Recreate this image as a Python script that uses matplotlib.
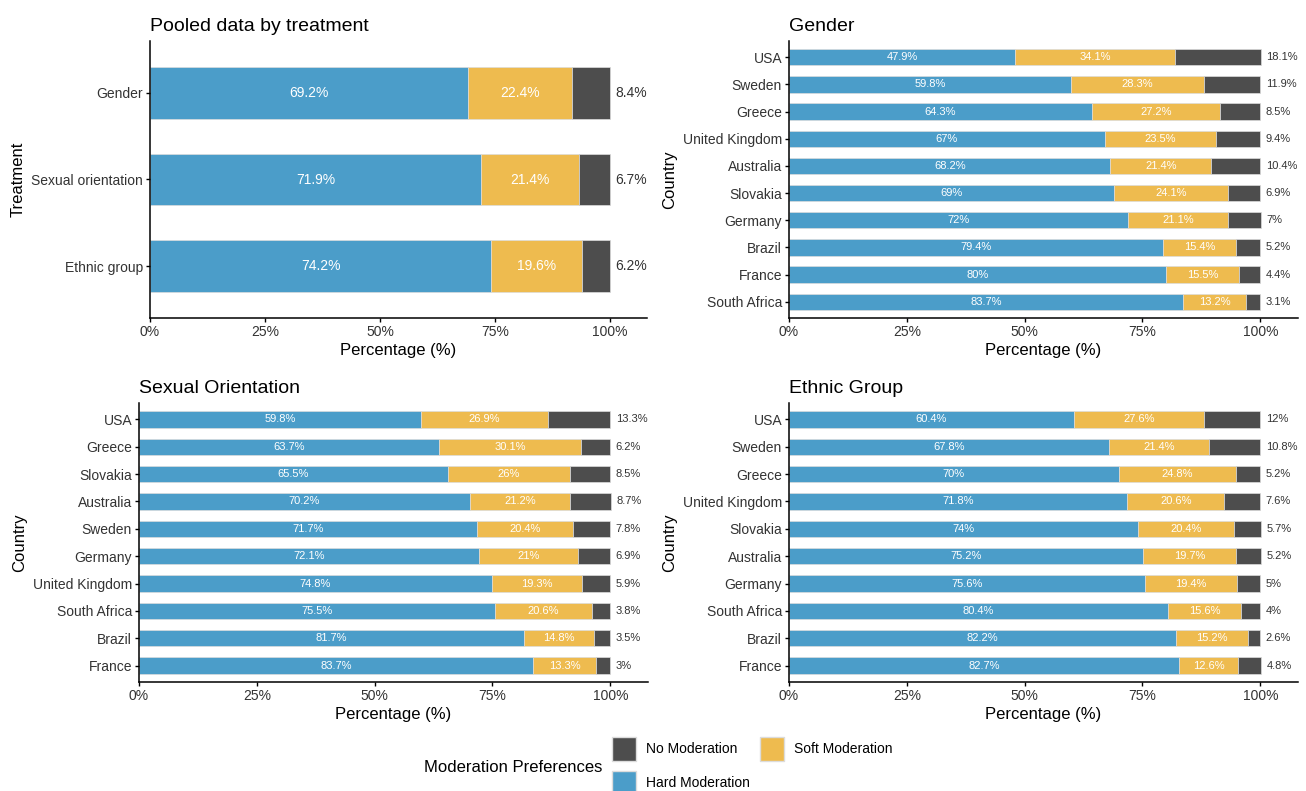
from matplotlib import pyplot as plt
from matplotlib.patches import Patch
from matplotlib.ticker import FuncFormatter

plt.rcParams['font.family'] = ['Liberation Sans', 'DejaVu Sans']

HARD_C = '#4b9dc9'
SOFT_C = '#eebb4f'
NONE_C = '#4d4d4d'
EDGE_C = '#dcdcdc'
TICK_C = '#333333'

# pooled data (top to bottom)
treatments = ['Gender', 'Sexual orientation', 'Ethnic group']
pooled_hard = [69.2, 71.9, 74.2]
pooled_soft = [22.4, 21.4, 19.6]
pooled_none = [8.4, 6.7, 6.2]

# gender treatment by country
gender_countries = ['USA', 'Sweden', 'Greece', 'United Kingdom', 'Australia',
                    'Slovakia', 'Germany', 'Brazil', 'France', 'South Africa']
gender_hard = [47.9, 59.8, 64.3, 67, 68.2, 69, 72, 79.4, 80, 83.7]
gender_soft = [34.1, 28.3, 27.2, 23.5, 21.4, 24.1, 21.1, 15.4, 15.5, 13.2]
gender_none = [18.1, 11.9, 8.5, 9.4, 10.4, 6.9, 7, 5.2, 4.4, 3.1]

# sexual orientation treatment by country
sexual_countries = ['USA', 'Greece', 'Slovakia', 'Australia', 'Sweden',
                    'Germany', 'United Kingdom', 'South Africa', 'Brazil', 'France']
sexual_hard = [59.8, 63.7, 65.5, 70.2, 71.7, 72.1, 74.8, 75.5, 81.7, 83.7]
sexual_soft = [26.9, 30.1, 26, 21.2, 20.4, 21, 19.3, 20.6, 14.8, 13.3]
sexual_none = [13.3, 6.2, 8.5, 8.7, 7.8, 6.9, 5.9, 3.8, 3.5, 3]

# ethnic group treatment by country
ethnic_countries = ['USA', 'Sweden', 'Greece', 'United Kingdom', 'Slovakia',
                    'Australia', 'Germany', 'South Africa', 'Brazil', 'France']
ethnic_hard = [60.4, 67.8, 70, 71.8, 74, 75.2, 75.6, 80.4, 82.2, 82.7]
ethnic_soft = [27.6, 21.4, 24.8, 20.6, 20.4, 19.7, 19.4, 15.6, 15.2, 12.6]
ethnic_none = [12, 10.8, 5.2, 7.6, 5.7, 5.2, 5, 4, 2.6, 4.8]

x_ticks = [0, 25, 50, 75, 100]

W, H = 1306, 791


def px_rect(left, top, right, bottom):
    return [left / W, 1 - bottom / H, (right - left) / W, (bottom - top) / H]


def pct(v):
    return f'{v:g}%'


def draw_panel(ax, cats, hard, soft, none, title, ylabel, label_size):
    n = len(cats)
    ys = [n - 1 - i for i in range(n)]
    soft_left = [h for h in hard]
    none_left = [h + s for h, s in zip(hard, soft)]

    ax.barh(ys, hard, height=0.6, color=HARD_C, edgecolor=EDGE_C, linewidth=0.5)
    ax.barh(ys, soft, left=soft_left, height=0.6, color=SOFT_C,
            edgecolor=EDGE_C, linewidth=0.5)
    ax.barh(ys, none, left=none_left, height=0.6, color=NONE_C,
            edgecolor=EDGE_C, linewidth=0.5)

    for y, h, s, z, sl, nl in zip(ys, hard, soft, none, soft_left, none_left):
        ax.text(h / 2, y, pct(h), ha='center', va='center',
                color='white', fontsize=label_size)
        ax.text(sl + s / 2, y, pct(s), ha='center', va='center',
                color='white', fontsize=label_size)
        ax.annotate(pct(z), (nl + z, y), xytext=(4, 0), textcoords='offset points',
                    ha='left', va='center', color=TICK_C, fontsize=label_size)

    ax.set_xlim(0, 108)
    ax.set_ylim(-0.6, n - 0.4)
    ax.set_xticks(x_ticks)
    ax.xaxis.set_major_formatter(FuncFormatter(lambda v, _: f'{v:.0f}%'))
    ax.set_yticks(ys)
    ax.set_yticklabels(cats)

    for side in ['top', 'right']:
        ax.spines[side].set_visible(False)
    for side in ['left', 'bottom']:
        ax.spines[side].set_linewidth(1.1)
        ax.spines[side].set_color('black')

    ax.tick_params(axis='both', length=3, width=1, color='black',
                   labelsize=10, labelcolor=TICK_C, pad=2)

    ax.set_xlabel('Percentage (%)', fontsize=12, labelpad=3)
    ax.set_ylabel(ylabel, fontsize=12, labelpad=4)
    ax.set_title(title, loc='left', fontsize=14, pad=7)


fig = plt.figure(figsize=(13.06, 7.91), dpi=100)

ax_tl = fig.add_axes(px_rect(150, 41, 647, 318))
ax_tr = fig.add_axes(px_rect(789, 41, 1298, 318))
ax_bl = fig.add_axes(px_rect(139, 403, 648, 682))
ax_br = fig.add_axes(px_rect(789, 403, 1298, 682))

draw_panel(ax_tl, treatments, pooled_hard, pooled_soft, pooled_none,
           'Pooled data by treatment', 'Treatment', 10)
draw_panel(ax_tr, gender_countries, gender_hard, gender_soft, gender_none,
           'Gender', 'Country', 8)
draw_panel(ax_bl, sexual_countries, sexual_hard, sexual_soft, sexual_none,
           'Sexual Orientation', 'Country', 8)
draw_panel(ax_br, ethnic_countries, ethnic_hard, ethnic_soft, ethnic_none,
           'Ethnic Group', 'Country', 8)

# shared legend, square keys in two columns
handles = [Patch(facecolor=NONE_C, edgecolor=EDGE_C, label='No Moderation'),
           Patch(facecolor=HARD_C, edgecolor=EDGE_C, label='Hard Moderation'),
           Patch(facecolor=SOFT_C, edgecolor=EDGE_C, label='Soft Moderation')]
fig.legend(handles=handles, ncol=2, loc='upper left',
           bbox_to_anchor=(612 / W, 1 - 737 / H), frameon=False,
           fontsize=10, borderpad=0, borderaxespad=0,
           handlelength=1.73, handleheight=2.28,
           handletextpad=0.72, labelspacing=0.72, columnspacing=0.72)
fig.text(424 / W, 1 - 767 / H, 'Moderation Preferences', fontsize=12,
         ha='left', va='center')

fig.savefig('out.png', dpi=100)
